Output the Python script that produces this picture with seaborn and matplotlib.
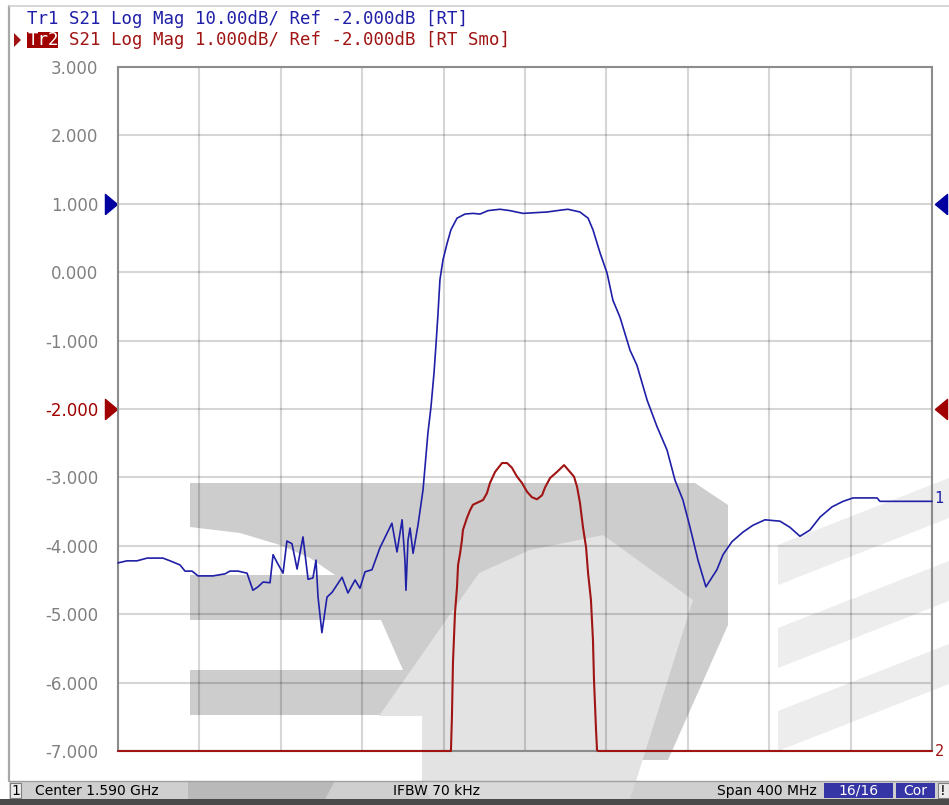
import matplotlib
matplotlib.use('Agg')
import matplotlib.pyplot as plt
import matplotlib.transforms as mtransforms
import numpy as np
import seaborn as sns
from matplotlib.patches import Polygon, Rectangle

# Tr1: S21 Log Mag, 10 dB/div, ref -2 dB placed on the +1 grid line
tr1_freq_mhz = [1390.0, 1394.4, 1399.3, 1404.3, 1412.1, 1415.6, 1420.5, 1422.9, 1426.4, 1429.3,
                1436.7, 1442.6, 1445.0, 1449.0, 1453.4, 1456.3, 1458.8, 1461.3, 1464.7, 1466.2,
                1468.1, 1471.1, 1473.0, 1475.5, 1478.0, 1480.9, 1483.4, 1485.8, 1487.3, 1488.3,
                1490.2, 1492.7, 1495.2, 1500.1, 1503.0, 1506.5, 1508.9, 1511.4, 1514.8, 1518.7,
                1524.6, 1527.1, 1529.6, 1531.0, 1531.5, 1532.5, 1533.5, 1535.0, 1537.4, 1539.9,
                1542.3, 1543.8, 1545.3, 1546.3, 1547.2, 1548.2, 1549.7, 1551.7, 1553.6, 1556.6,
                1560.5, 1564.4, 1567.9, 1571.8, 1577.7, 1582.6, 1589.0, 1600.8, 1608.2, 1611.1,
                1617.0, 1621.0, 1623.4, 1626.9, 1630.3, 1633.2, 1636.7, 1641.6, 1645.0, 1650.0,
                1654.9, 1659.8, 1663.7, 1667.6, 1671.1, 1675.0, 1678.9, 1684.3, 1687.3, 1691.7,
                1697.1, 1702.0, 1707.9, 1715.3, 1720.2, 1725.1, 1730.0, 1735.0, 1740.9, 1746.3,
                1751.2, 1763.0, 1764.4, 1790.0]
tr1_db = [-54.5, -54.2, -54.2, -53.8, -53.8, -54.2, -54.8, -55.7, -55.7, -56.4,
          -56.4, -56.1, -55.7, -55.7, -56.0, -58.5, -58.0, -57.3, -57.4, -53.3,
          -54.4, -56.0, -51.3, -51.7, -55.4, -50.7, -56.9, -56.7, -54.1, -59.5,
          -64.7, -59.5, -58.8, -56.6, -58.9, -57.0, -58.2, -55.8, -55.5, -52.3,
          -48.7, -52.9, -48.2, -54.1, -58.5, -51.2, -49.4, -53.1, -49.0, -43.8,
          -35.5, -31.7, -26.7, -22.4, -18.3, -13.1, -10.2, -7.8, -5.8, -4.1,
          -3.5, -3.4, -3.5, -3.0, -2.8, -3.0, -3.4, -3.2, -2.9, -2.8,
          -3.2, -4.1, -5.8, -9.2, -12.1, -16.1, -18.6, -23.4, -25.6, -30.7,
          -34.6, -38.0, -42.4, -45.3, -49.3, -54.1, -58.0, -55.5, -53.3, -51.4,
          -50.0, -49.0, -48.2, -48.4, -49.3, -50.6, -49.7, -47.8, -46.3, -45.5,
          -45.0, -45.0, -45.5, -45.5]

# Tr2: S21 smoothed, 1 dB/div, ref -2 dB on the -2 grid line (bottom-clipped at -7)
tr2_freq_mhz = [1390.0, 1553.6, 1554.1, 1554.6, 1555.6, 1556.6, 1557.1, 1558.1, 1559.0, 1559.5,
                1561.5, 1563.0, 1564.4, 1569.4, 1571.3, 1572.8, 1575.3, 1578.7, 1581.2, 1583.6,
                1586.1, 1588.5, 1591.0, 1593.4, 1595.9, 1598.4, 1599.8, 1602.3, 1605.7, 1609.2,
                1612.1, 1614.1, 1615.6, 1617.0, 1618.5, 1620.0, 1621.0, 1622.4, 1623.4, 1623.9,
                1624.9, 1625.4, 1625.9, 1790.0]
tr2_db = [-7.0, -7.0, -6.50, -5.71, -4.98, -4.60, -4.28, -4.11, -3.92, -3.77,
          -3.59, -3.48, -3.40, -3.33, -3.23, -3.08, -2.92, -2.79, -2.79, -2.86,
          -2.99, -3.08, -3.21, -3.29, -3.32, -3.26, -3.15, -3.01, -2.92, -2.82,
          -2.92, -2.99, -3.14, -3.37, -3.73, -4.02, -4.40, -4.79, -5.38, -5.96,
          -6.69, -6.99, -7.0, -7.0]

y_ticks = [3, 2, 1, 0, -1, -2, -3, -4, -5, -6, -7]
y_labels = ['3.000', '2.000', '1.000', '0.000', '-1.000', '-2.000', '-3.000',
            '-4.000', '-5.000', '-6.000', '-7.000']
header_tr1 = 'Tr1 S21 Log Mag 10.00dB/ Ref -2.000dB [RT]'
header_tr2 = 'S21 Log Mag 1.000dB/ Ref -2.000dB [RT Smo]'

BLUE = '#1f1fa8'
RED = '#a01414'

# map each trace onto the shared grid (ref position + (dB - ref) / scale)
tr1_grid = 1.0 + (np.array(tr1_db) + 2.0) / 10.0
tr2_grid = -2.0 + (np.array(tr2_db) + 2.0) / 1.0

sns.set_theme(style='white')
plt.rcParams['font.family'] = ['DejaVu Sans']

W, H = 949, 805
fig = plt.figure(figsize=(W / 100, H / 100), dpi=100)
fig.patch.set_facecolor('white')

# background layer in pixel coordinates: watermark, header, status bar
bg = fig.add_axes([0, 0, 1, 1], zorder=0)
bg.set_xlim(0, W)
bg.set_ylim(H, 0)
bg.axis('off')

dark = '#cdcdcd'
light = '#e3e3e3'
bg.add_patch(Polygon([(190, 483), (695, 483), (728, 505), (728, 625), (668, 760), (422, 760),
                      (422, 715), (190, 715), (190, 670), (403, 670), (381, 620), (190, 620),
                      (190, 575), (335, 575), (310, 558), (280, 545), (240, 533), (190, 527)],
                     closed=True, facecolor=dark, edgecolor='none'))
bg.add_patch(Polygon([(422, 781), (422, 716), (379, 716), (479, 573), (530, 550), (603, 535),
                      (693, 600), (636, 781)],
                     closed=True, facecolor=light, edgecolor='none'))
for top in [545, 628, 711]:
    bg.add_patch(Polygon([(778, top), (949, top - 67), (949, top - 27), (778, min(top + 40, 781))],
                         closed=True, facecolor='#ededed', edgecolor='none'))

# window frame
bg.plot([9, 9], [6, 781], color='#a8a8a8', lw=1.6)
bg.plot([9, W], [6, 6], color='#cfcfcf', lw=1.2)

# header lines
mono = 'DejaVu Sans Mono'
bg.text(27, 19, header_tr1, color=BLUE, family=mono, fontsize=12.5, va='center', ha='left')
bg.add_patch(Polygon([(14, 33), (14, 47), (21, 40)], closed=True, facecolor=RED, edgecolor='none'))
bg.add_patch(Rectangle((27, 32), 31, 16, facecolor='#a00000', edgecolor='none'))
bg.text(27.5, 40, 'Tr2', color='white', family=mono, fontsize=12.5, va='center', ha='left')
bg.text(27 + 4 * 10.45, 40, header_tr2, color=RED, family=mono, fontsize=12.5, va='center', ha='left')

# status bar
bg.add_patch(Rectangle((9, 781), W - 9, 18, facecolor='#cfcfcf', edgecolor='none'))
bg.add_patch(Polygon([(188, 781), (335, 781), (325, 799), (188, 799)], closed=True,
                     facecolor='#b9b9b9', edgecolor='none'))
bg.add_patch(Polygon([(424, 781), (636, 781), (630, 799), (430, 799)], closed=True,
                     facecolor='#d9d9d9', edgecolor='none'))
bg.plot([9, W], [781, 781], color='#a0a0a0', lw=1.0)
bg.add_patch(Rectangle((0, 799), W, 6, facecolor='#4a4a4a', edgecolor='none'))
bg.add_patch(Rectangle((10, 783), 11, 15, facecolor='#ececec', edgecolor='#808080', lw=0.8))
bg.text(15.5, 790.5, '1', fontsize=10, va='center', ha='center', color='black')
bg.text(35, 790.5, 'Center 1.590 GHz', fontsize=10, va='center', ha='left', color='black')
bg.text(437, 790.5, 'IFBW 70 kHz', fontsize=10, va='center', ha='center', color='black')
bg.text(817, 790.5, 'Span 400 MHz', fontsize=10, va='center', ha='right', color='black')
bg.add_patch(Rectangle((824, 783), 69, 15, facecolor='#3535a5', edgecolor='none'))
bg.text(858.5, 790.5, '16/16', fontsize=10, va='center', ha='center', color='white')
bg.add_patch(Rectangle((896, 783), 39, 15, facecolor='#3535a5', edgecolor='none'))
bg.text(915.5, 790.5, 'Cor', fontsize=10, va='center', ha='center', color='white')
bg.add_patch(Rectangle((938, 783), 11, 15, facecolor='#ececec', edgecolor='#808080', lw=0.8))
bg.text(943, 790.5, '!', fontsize=10, va='center', ha='center', color='black')

# main plot area
ax = fig.add_axes([118 / W, (H - 751) / H, 814 / W, 684 / H], zorder=1)
ax.set_facecolor('none')

sns.lineplot(x=tr1_freq_mhz, y=tr1_grid, ax=ax, color=BLUE, linewidth=1.2, estimator=None)
sns.lineplot(x=tr2_freq_mhz, y=tr2_grid, ax=ax, color=RED, linewidth=1.5, estimator=None)
for line in ax.lines:
    line.set_clip_on(False)
    line.set_zorder(3)

ax.set_xlim(1390, 1790)
ax.set_ylim(-7, 3)
ax.set_xticks(np.arange(1390, 1791, 40))
ax.set_xticklabels([])
ax.set_yticks(y_ticks)
ax.set_yticklabels(y_labels)
ax.tick_params(axis='both', length=0)
ax.tick_params(axis='y', pad=14, labelsize=12, labelcolor='#808080')
ax.get_yticklabels()[y_ticks.index(-2)].set_color('#a00000')
ax.grid(True, color='black', alpha=0.16, linewidth=1.5)
ax.set_axisbelow(True)
for side, spine in ax.spines.items():
    spine.set_color('#8c8c8c')
    spine.set_linewidth(1.5)
    spine.set_visible(True)
    spine.set_zorder(2)
ax.set_xlabel('')
ax.set_ylabel('')

# reference position markers and trace end labels
blend = mtransforms.blended_transform_factory(ax.transAxes, ax.transData)
tri_r = [(-6, -10), (-6, 10), (6, 0), (-6, -10)]
tri_l = [(6, -10), (6, 10), (-6, 0), (6, -10)]
for y_ref, col in [(1.0, '#0000a0'), (-2.0, '#a00000')]:
    ax.plot([-0.0086], [y_ref], marker=tri_r, markersize=14.5, color=col, linestyle='none',
            transform=blend, clip_on=False)
    ax.plot([1.011], [y_ref], marker=tri_l, markersize=14.5, color=col, linestyle='none',
            transform=blend, clip_on=False)
ax.text(1.003, tr1_grid[-1] + 0.04, '1', color=BLUE, family=mono, fontsize=11, va='center',
        ha='left', transform=blend, clip_on=False)
ax.text(1.003, tr2_grid[-1], '2', color=RED, family=mono, fontsize=11, va='center',
        ha='left', transform=blend, clip_on=False)

fig.savefig('out.png', dpi=100)
